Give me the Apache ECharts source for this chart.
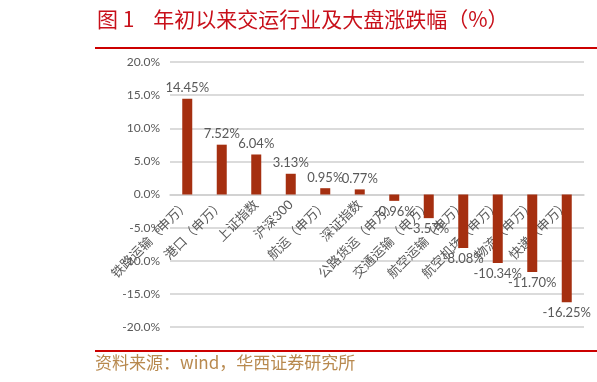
<!DOCTYPE html>
<html>
<head>
<meta charset="utf-8">
<script src="https://cdn.jsdelivr.net/npm/echarts@6/dist/echarts.min.js"></script>
<style>html,body{margin:0;padding:0;background:#fff;}#c{width:597px;height:382px;}</style>
</head>
<body>
<div id="c"></div>
<script>
var categories = ['铁路运输（申万）','港口（申万）','上证指数','沪深300','航运（申万）','深证指数','公路货运（申万）','交通运输（申万）','航空运输（申万）','航空机场（申万）','物流（申万）','快递（申万）'];
var values = [14.45, 7.52, 6.04, 3.13, 0.95, 0.77, -0.96, -3.57, -8.08, -10.34, -11.70, -16.25];
var yTicks = {min: -20, max: 20, interval: 5};
var titleText = '图 1    年初以来交运行业及大盘涨跌幅（%）';
var sourceText = '资料来源：wind，华西证券研究所';

var gridTop = 62, gridBottom = 55, H = 382;
var plotH = H - gridTop - gridBottom;
// distance from grid bottom up to the zero line
var zeroOffset = -plotH * (0 - yTicks.min) / (yTicks.max - yTicks.min);

var chart = echarts.init(document.getElementById('c'), null, {renderer: 'canvas'});
var labelFont = 'Lato, "Noto Sans CJK SC", sans-serif';
chart.setOption({
  backgroundColor: '#fff',
  animation: false,
  graphic: [
    {type: 'text', left: 97, top: 9, style: {text: titleText, fill: '#c8101a', font: '21px "Noto Sans CJK SC"'}},
    {type: 'line', shape: {x1: 95, y1: 48, x2: 597, y2: 48}, style: {stroke: '#cc0000', lineWidth: 2}},
    {type: 'line', shape: {x1: 95, y1: 351, x2: 597, y2: 351}, style: {stroke: '#cc0000', lineWidth: 2}},
    {type: 'text', left: 95, top: 354, style: {text: sourceText, fill: '#b8894e', font: '17px "Noto Sans CJK SC"'}}
  ],
  grid: {left: 170, right: 13, top: gridTop, bottom: gridBottom, containLabel: false, outerBoundsMode: 'none'},
  xAxis: {
    type: 'category',
    data: categories,
    offset: zeroOffset,
    axisLine: {show: true, onZero: false, lineStyle: {color: '#cfcfcf', width: 1.5}},
    axisTick: {show: false},
    axisLabel: {rotate: 45, fontSize: 13, color: '#595959', fontFamily: labelFont, margin: 8, interval: 0}
  },
  yAxis: {
    type: 'value',
    min: yTicks.min, max: yTicks.max, interval: yTicks.interval,
    axisLine: {show: false},
    axisTick: {show: false},
    axisLabel: {fontSize: 12, color: '#595959', fontFamily: labelFont, margin: 10,
      formatter: function (v) { return v.toFixed(1) + '%'; }},
    splitLine: {lineStyle: {color: '#cfcfcf', width: 1.5}}
  },
  series: [{
    type: 'bar',
    data: values.map(function (v) {
      return {value: v, label: {position: v >= 0 ? 'top' : 'bottom'}};
    }),
    barWidth: 10,
    itemStyle: {color: '#a52f10'},
    label: {show: true, fontSize: 13, color: '#595959', fontFamily: labelFont, distance: 4,
      formatter: function (p) { return p.value.toFixed(2) + '%'; }}
  }]
});
</script>
</body>
</html>
